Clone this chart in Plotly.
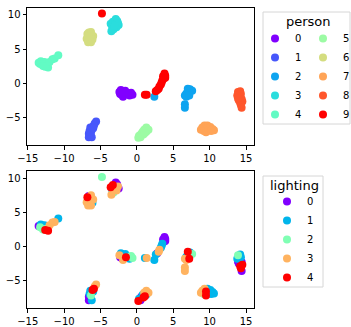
import plotly.graph_objects as go

# ---------------- data (embedding coordinates per person, with lighting label) ----------------
x_p0 = [-2.4, -2.2, -2.0, -1.8, -2.1, -1.9, -1.6, -1.5, -1.2, -1.0, -0.8, -0.6, -2.3]
y_p0 = [-1.3, -1.0, -1.2, -1.5, -1.7, -2.0, -1.1, -1.6, -1.5, -1.8, -1.4, -1.7, -1.6]
l_p0 = [3, 1, 1, 0, 0, 3, 1, 4, 1, 1, 2, 2, 0]

x_p1 = [-5.6, -5.8, -5.9, -6.1, -6.4, -6.2, -6.5, -6.3, -6.6, -6.4, -6.6, -6.2, -6.0]
y_p1 = [-5.6, -5.9, -6.2, -6.4, -6.5, -6.8, -7.0, -7.2, -7.4, -7.6, -7.9, -7.9, -6.6]
l_p1 = [3, 3, 4, 4, 1, 1, 1, 2, 0, 0, 0, 1, 1]

x_p2 = [7.0, 7.3, 7.6, 7.1, 6.8, 6.6, 6.8, 7.2, 7.2, 6.6, 6.6, 2.4]
y_p2 = [-0.8, -0.9, -1.1, -1.2, -1.5, -1.8, -2.0, -1.5, -1.8, -3.1, -3.6, -2.0]
l_p2 = [4, 1, 2, 0, 1, 3, 3, 1, 4, 3, 3, 1]

x_p3 = [-2.9, -2.7, -3.3, -3.6, -3.0, -2.5, -3.4, -2.8, -3.2, -3.5, -2.6, -3.1]
y_p3 = [9.4, 9.1, 9.0, 8.7, 8.7, 8.5, 8.3, 8.2, 7.9, 7.6, 8.8, 8.4]
l_p3 = [0, 0, 4, 4, 1, 0, 1, 3, 2, 3, 3, 1]

x_p4 = [-13.5, -13.2, -13.0, -12.7, -12.4, -12.2, -12.6, -12.0, -11.6, -11.3, -10.8, -13.3, -12.9]
y_p4 = [3.0, 3.2, 2.8, 3.1, 2.6, 2.3, 2.4, 3.1, 3.5, 3.6, 4.1, 2.8, 2.5]
l_p4 = [0, 1, 1, 1, 2, 4, 4, 3, 3, 3, 1, 2, 2]

x_p5 = [1.3, 1.6, 1.0, 1.3, 0.8, 0.6, 0.9, 0.3, 0.2, 0.5, 1.1]
y_p5 = [-6.5, -6.8, -6.8, -7.1, -7.1, -7.4, -7.5, -7.7, -8.0, -7.9, -7.3]
l_p5 = [3, 3, 3, 1, 1, 0, 4, 1, 4, 0, 4]

x_p6 = [-6.6, -6.3, -6.8, -6.4, -6.0, -6.9, -6.5, -6.1, -6.7, -6.3, -6.6]
y_p6 = [7.4, 7.5, 7.2, 7.0, 6.9, 6.5, 6.5, 6.4, 6.0, 6.0, 6.8]
l_p6 = [0, 3, 4, 1, 3, 3, 2, 1, 3, 3, 1]

x_p7 = [9.3, 9.7, 10.1, 9.0, 9.5, 10.4, 10.6, 8.8, 9.2, 9.8, 9.5, 10.2]
y_p7 = [-6.2, -6.2, -6.4, -6.5, -6.6, -6.7, -6.9, -6.8, -7.0, -6.9, -7.2, -7.0]
l_p7 = [3, 1, 1, 3, 4, 1, 1, 3, 2, 0, 4, 1]

x_p8 = [13.9, 14.2, 14.3, 13.8, 14.1, 14.4, 14.0, 14.5, 14.2, 14.3, 14.4, 13.9]
y_p8 = [-1.3, -1.2, -1.6, -1.8, -2.0, -2.3, -2.5, -2.7, -2.9, -3.2, -3.6, -2.2]
l_p8 = [2, 1, 1, 1, 0, 0, 0, 4, 4, 4, 0, 0]

x_p9 = [-4.8, 1.1, 1.35, 2.6, 2.8, 3.0, 3.1, 3.3, 3.4, 3.5, 3.7, 3.6, 3.9, 3.8, 3.9]
y_p9 = [10.2, -1.7, -1.7, -1.2, -1.0, -0.8, -0.5, -0.2, 0.1, 0.4, 0.7, 1.0, 1.1, 1.4, 0.8]
l_p9 = [2, 1, 3, 1, 0, 3, 3, 1, 1, 1, 0, 0, 0, 0, 0]

person_labels = ["0", "1", "2", "3", "4", "5", "6", "7", "8", "9"]
lighting_labels = ["0", "1", "2", "3", "4"]
x_ticks = [-15, -10, -5, 0, 5, 10, 15]
y_ticks = [-5, 0, 5, 10]

# rainbow colormap samples
person_colors = ["#8000ff", "#4757fb", "#0ea4f0", "#2adddd", "#62fbc4",
                 "#9cfba4", "#d4dd80", "#ffa457", "#ff562c", "#ff0000"]
lighting_colors = ["#8000ff", "#00b5eb", "#80ffb4", "#ffb360", "#ff0000"]

xs = [x_p0, x_p1, x_p2, x_p3, x_p4, x_p5, x_p6, x_p7, x_p8, x_p9]
ys = [y_p0, y_p1, y_p2, y_p3, y_p4, y_p5, y_p6, y_p7, y_p8, y_p9]
ls = [l_p0, l_p1, l_p2, l_p3, l_p4, l_p5, l_p6, l_p7, l_p8, l_p9]

W, H = 351, 327
ML, MR, MT, MB = 27, 97, 8, 19
PW = W - ML - MR
PH = H - MT - MB


def px_x(px):
    return (px - ML) / PW


def px_y(py):
    return (H - MB - py) / PH


fig = go.Figure()

# top: colored by person
for p, lab in enumerate(person_labels):
    fig.add_trace(go.Scatter(
        x=xs[p], y=ys[p], mode="markers", name=lab,
        marker=dict(size=8, color=person_colors[p], line=dict(width=0)),
        xaxis="x", yaxis="y",
        legend="legend" if p < 5 else "legend2",
    ))

# bottom: colored by lighting
for li, lab in enumerate(lighting_labels):
    bx, by = [], []
    for p in range(len(person_labels)):
        for xv, yv, lv in zip(xs[p], ys[p], ls[p]):
            if lv == li:
                bx.append(xv)
                by.append(yv)
    fig.add_trace(go.Scatter(
        x=bx, y=by, mode="markers", name=lab,
        marker=dict(size=8, color=lighting_colors[li], line=dict(width=0)),
        xaxis="x2", yaxis="y2", legend="legend3",
    ))

font_family = "DejaVu Sans"
axis_common = dict(
    showline=True, linecolor="black", linewidth=1, mirror=True,
    ticks="outside", ticklen=3.5, tickwidth=1, tickcolor="black",
    showgrid=False, zeroline=False,
    tickfont=dict(family=font_family, size=10, color="black"),
)

top_dom = [px_y(145), 1.0]
bot_dom = [0.0, px_y(171)]

legend_common = dict(
    xanchor="left", yanchor="top", bgcolor="rgba(0,0,0,0)", borderwidth=0,
    font=dict(family=font_family, size=10, color="black"),
    itemclick=False, itemdoubleclick=False, tracegroupgap=0,
)

fig.update_layout(
    width=W, height=H,
    margin=dict(l=ML, r=MR, t=MT, b=MB, autoexpand=False),
    plot_bgcolor="white", paper_bgcolor="white",
    font=dict(family=font_family, size=10, color="black"),
    hovermode=False,
    xaxis=dict(domain=[0, 1], anchor="y", range=[-15.1, 16.1], tickvals=x_ticks, **axis_common),
    yaxis=dict(domain=top_dom, anchor="x", range=[-9.05, 11.0], tickvals=y_ticks, **axis_common),
    xaxis2=dict(domain=[0, 1], anchor="y2", range=[-15.1, 16.1], tickvals=x_ticks, **axis_common),
    yaxis2=dict(domain=bot_dom, anchor="x2", range=[-9.04, 11.07], tickvals=y_ticks, **axis_common),
    legend=dict(x=px_x(255), y=px_y(24), **legend_common),
    legend2=dict(x=px_x(303), y=px_y(24), **legend_common),
    legend3=dict(x=px_x(267), y=px_y(187), **legend_common),
    shapes=[
        dict(type="rect", xref="paper", yref="paper",
             x0=px_x(263), x1=px_x(350), y0=px_y(124), y1=px_y(12),
             line=dict(color="#d6d6d6", width=1), fillcolor="rgba(0,0,0,0)", layer="below"),
        dict(type="rect", xref="paper", yref="paper",
             x0=px_x(263), x1=px_x(323), y0=px_y(287), y1=px_y(176),
             line=dict(color="#d6d6d6", width=1), fillcolor="rgba(0,0,0,0)", layer="below"),
    ],
    annotations=[
        dict(text="person", xref="paper", yref="paper", x=px_x(308), y=px_y(22),
             xanchor="center", yanchor="middle", showarrow=False,
             font=dict(family=font_family, size=13, color="black")),
        dict(text="lighting", xref="paper", yref="paper", x=px_x(294), y=px_y(186),
             xanchor="center", yanchor="middle", showarrow=False,
             font=dict(family=font_family, size=13, color="black")),
    ],
)

fig.write_html("out.html", config={"displayModeBar": False},
               post_script="document.body.style.margin='0';")
